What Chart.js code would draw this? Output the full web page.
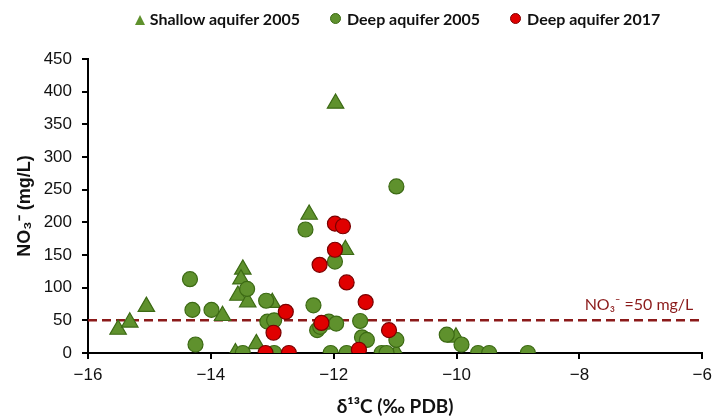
<!DOCTYPE html>
<html>
<head>
<meta charset="utf-8">
<script src="https://cdn.jsdelivr.net/npm/chart.js@4/dist/chart.umd.min.js"></script>
<style>
  body{margin:0;background:#fff;}
  #wrap{position:relative;width:718px;height:416px;}
  #legenda{position:absolute;top:9px;left:88px;width:619px;display:flex;justify-content:center;gap:30px;
           font:bold 16px Lato,"Open Sans",sans-serif;color:#111;white-space:nowrap;}
  .tri{display:inline-block;width:0;height:0;border-left:5px solid transparent;border-right:5px solid transparent;border-bottom:10px solid #5f912d;margin-right:5px;vertical-align:0px;}
  .dot{display:inline-block;width:9px;height:9px;border-radius:50%;margin-right:6px;vertical-align:1px;}
</style>
</head>
<body>
<div id="wrap">
  <canvas id="chart" width="718" height="416"></canvas>
  <div id="legenda">
    <span><span class="tri"></span>Shallow aquifer 2005</span>
    <span><span class="dot" style="background:#5f912d;border:1px solid #3c6a14"></span>Deep aquifer 2005</span>
    <span><span class="dot" style="background:#e00000;border:1px solid #800000"></span>Deep aquifer 2017</span>
  </div>
</div>
<script>
// === Dados (δ13C, NO3-) ===
const shallow2005 = [
  [-15.51,36],[-15.32,47],[-15.05,71],[-13.81,57],[-13.48,128],[-13.51,113],
  [-13.56,88],[-13.40,78],[-13.00,77],[-13.26,14],[-13.60,0],[-12.40,212],
  [-11.97,382],[-11.81,158],[-11.57,0],[-10.98,0],[-10.01,24]
];
const deep2005 = [
  [-14.34,113],[-14.30,66],[-13.99,66],[-14.25,13],[-13.41,98],[-13.10,80],
  [-13.08,48],[-12.97,50],[-13.48,0],[-12.97,0],[-12.33,73],[-12.27,35],
  [-12.22,40],[-12.46,189],[-10.98,255],[-11.98,140],[-12.08,48],[-11.96,45],
  [-11.57,49],[-11.54,24],[-11.46,20],[-10.98,20],[-12.05,0],[-11.79,0],
  [-11.22,0],[-11.14,0],[-10.16,28],[-9.92,13],[-9.65,0],[-9.47,0],[-8.84,0]
];
const deep2017 = [
  [-12.78,63],[-12.98,31],[-13.11,0],[-12.73,0],[-11.98,198],[-11.85,194],
  [-11.98,158],[-12.23,135],[-11.79,108],[-11.48,78],[-12.20,46],[-11.10,35],
  [-11.59,5]
];
const LIMITE = 50;            // NO3- = 50 mg/L
const X_MIN = -16, X_MAX = -6, X_STEP = 2;
const Y_MIN = 0, Y_MAX = 450, Y_STEP = 50;
const LABEL_LIMITE = "NO₃⁻ =50 mg/L";

const VERDE = "#5f912d", VERDE_BORDA = "#3c6a14";
const VERMELHO = "#e00000", VERMELHO_BORDA = "#7a0000";
const LINHA = "#8b1a1a";

function pontos(arr){ return arr.map(p=>({x:p[0],y:p[1]})); }

// texto da linha limite
const labelLimite = {
  id:"labelLimite",
  afterDatasetsDraw(chart){
    const {ctx, scales:{x,y}} = chart;
    ctx.save();
    ctx.font = "16px Lato, 'Open Sans', sans-serif";
    ctx.fillStyle = LINHA;
    ctx.textAlign = "right";
    ctx.textBaseline = "bottom";
    ctx.fillText(LABEL_LIMITE, x.getPixelForValue(X_MAX) - 9, y.getPixelForValue(LIMITE) - 7);
    ctx.restore();
  }
};

const fonteTick = {family:"'Liberation Sans', Arial, sans-serif", size:17};

new Chart(document.getElementById("chart"),{
  type:"scatter",
  data:{datasets:[
    {label:"Deep aquifer 2017", data:pontos(deep2017), pointStyle:"circle", pointRadius:7.5,
     backgroundColor:VERMELHO, borderColor:VERMELHO_BORDA, borderWidth:1.2, order:1},
    {label:"Deep aquifer 2005", data:pontos(deep2005), pointStyle:"circle", pointRadius:7.5,
     backgroundColor:VERDE, borderColor:VERDE_BORDA, borderWidth:1.2, order:2},
    {label:"Shallow aquifer 2005", data:pontos(shallow2005), pointStyle:"triangle", pointRadius:9.5,
     backgroundColor:VERDE, borderColor:VERDE_BORDA, borderWidth:1.2, order:3},
    {type:"line", label:"limite", data:[{x:X_MIN,y:LIMITE},{x:X_MAX,y:LIMITE}],
     borderColor:LINHA, borderWidth:2.5, borderDash:[9,5], pointRadius:0, order:4}
  ]},
  options:{
    responsive:false,
    animation:false,
    layout:{padding:{top:59,right:11,left:0,bottom:0}},
    plugins:{legend:{display:false},tooltip:{enabled:false}},
    scales:{
      x:{
        type:"linear", min:X_MIN, max:X_MAX,
        afterFit(s){ s.height = 63; },
        ticks:{stepSize:X_STEP, color:"#111", font:fonteTick, padding:6,
               callback:v=>String(v).replace("-","−")},
        grid:{drawOnChartArea:false, color:"#000", lineWidth:2, tickLength:6},
        border:{display:true, color:"#000", width:2},
        title:{display:true, text:"δ¹³C (‰ PDB)", color:"#111",
               font:{family:"Lato, 'Open Sans', sans-serif", size:19, weight:"bold", lineHeight:1},
               padding:{top:0,bottom:0}}
      },
      y:{
        min:Y_MIN, max:Y_MAX,
        afterFit(s){ s.width = 88; },
        ticks:{stepSize:Y_STEP, color:"#111", font:fonteTick, padding:10},
        grid:{drawOnChartArea:false, color:"#000", lineWidth:2, tickLength:6},
        border:{display:true, color:"#000", width:2},
        title:{display:true, text:"NO₃⁻ (mg/L)", color:"#111",
               font:{family:"'Liberation Sans', Arial, sans-serif", size:18, weight:"bold", lineHeight:1},
               padding:{top:16,bottom:0}}
      }
    }
  },
  plugins:[labelLimite]
});
</script>
</body>
</html>
